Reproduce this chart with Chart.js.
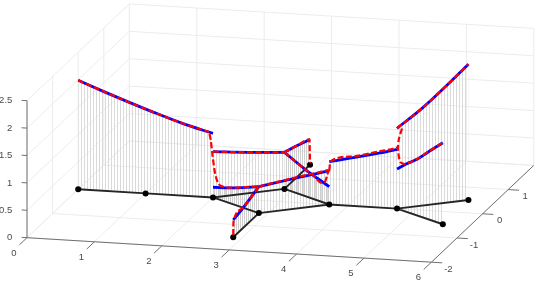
<!DOCTYPE html>
<html>
<head>
<meta charset="utf-8">
<style>
  html, body { margin: 0; padding: 0; background: #fff; }
  canvas { display: block; }
</style>
<script src="https://cdn.jsdelivr.net/npm/chart.js@4/dist/chart.umd.js"></script>
</head>
<body>
<canvas id="chart" width="537" height="285"></canvas>
<script>
// tick labels
const xTicks = [0, 1, 2, 3, 4, 5, 6];
const yTicks = [-2, -1, 0, 1];
const zTicks = [0, 0.5, 1, 1.5, 2, 2.5];
const yGrid = [-2, -1, 0, 1, 2];

// network nodes A..K (on the floor)
const nodeX = [0, 1, 2, 2.87, 2.87, 2.87, 2.87, 3.725, 4.73, 5.6, 5.6];
const nodeY = [0, 0, 0, -0.5, -1.5, 0.5, 1.5, 0, 0, 0.5, -0.5];
const A = 0, B = 1, C = 2, D = 3, E = 4, F = 5, G = 6, H = 7, I = 8, J = 9, K = 10;
const links = [[A, B], [B, C], [C, D], [D, E], [C, F], [F, G], [F, H], [D, H], [H, I], [I, J], [I, K]];

// values along each edge: s is the position on the edge (0..1), z the height
const sAC = [0, 0.186, 0.37, 0.556, 0.778, 1];
const blueAC = [1.989, 1.815, 1.65, 1.492, 1.315, 1.168];
const sRedAC = [0, 0.186, 0.37, 0.556, 0.778, 0.97];
const redAC = [1.989, 1.815, 1.65, 1.492, 1.315, 1.19];

const sCF = [0, 0.5, 1];
const blueCF = [0.836, 0.746, 0.668];

const sCD = [0, 0.5, 1];
const blueCD = [0.186, 0.316, 0.482];
const sRedCD = [-0.076, -0.05, -0.007, 0.044, 0.116, 0.225, 0.437, 0.742, 1];
const redCD = [1.135, 1.035, 0.743, 0.46, 0.292, 0.261, 0.303, 0.403, 0.485];

const sED = [0, 0.4, 1];
const blueED = [0.316, 0.37, 0.482];
const sRedED = [0, 0.002, 0.02, 0.4, 1];
const redED = [0.04, 0.18, 0.3, 0.37, 0.485];

const sDH = [0, 0.5, 1];
const blueDH = [0.482, 0.553, 0.617];
const sRedDH = [0, 0.5, 0.99];
const redDH = [0.485, 0.565, 0.63];

const sFH = [0, 0.46, 1];
const blueFH = [0.668, 0.489, 0.325];
const sRedFH = [0, 0.46, 0.637, 0.83, 0.904, 0.978, 1];
const redFH = [0.668, 0.489, 0.434, 0.349, 0.389, 0.593, 0.62];

const sFG = [0, 0.5, 1];
const blueFG = [0.668, 0.57, 0.46];
const sRedFG = [0, 0.5, 0.98, 0.99, 1];
const redFG = [0.668, 0.57, 0.47, 0.25, 0.03];

const sHI = [0, 0.305, 0.75, 1];
const blueHI = [0.781, 0.867, 0.996, 1.08];
const sRedHI = [0, 0.015, 0.305, 0.75, 0.97, 1];
const redHI = [0.62, 0.78, 0.896, 1.03, 1.1, 1.12];

const sIJ = [0, 0.35, 0.654, 1];
const blueIJ = [1.465, 1.775, 2.093, 2.48];

const sIK = [0, 0.18, 0.437, 0.69, 1];
const blueIK = [0.723, 0.858, 1.024, 1.235, 1.487];
const sRedIK = [0.109, 0.037, 0.022, 0.072, 0.181, 0.437, 0.69, 1];
const redIK = [1.494, 1.262, 1.077, 0.87, 0.865, 1.03, 1.24, 1.49];

// fixed view of the 3D box, same for all data
function project(x, y, z) {
  return {
    x: 27 + 67.4 * x + 25.6 * (y + 2),
    y: 237.7 + 4.08 * x - 24.2 * (y + 2) - 54.8 * z
  };
}

function onEdge(from, to, s, z) {
  return s.map((v, i) => project(
    nodeX[from] + (nodeX[to] - nodeX[from]) * v,
    nodeY[from] + (nodeY[to] - nodeY[from]) * v,
    z[i]
  ));
}

// segments joined into one path, NaN breaks the line
function segments(list) {
  const out = [];
  list.forEach(seg => {
    out.push(project(...seg[0]), project(...seg[1]), { x: NaN, y: NaN });
  });
  return out;
}

// thin vertical stems, drawn as a repeating pattern
function hatch(period, color) {
  const c = document.createElement("canvas");
  c.width = period;
  c.height = 1;
  const g = c.getContext("2d");
  g.fillStyle = color;
  g.fillRect(0, 0, 1, 1);
  return g.createPattern(c, "repeat");
}

const gridLines = [];
xTicks.forEach(x => {
  gridLines.push([[x, 2, 0], [x, 2, 2.5]], [[x, -2, 0], [x, 2, 0]]);
});
yGrid.forEach(y => {
  gridLines.push([[0, y, 0], [0, y, 2.5]], [[0, y, 0], [6, y, 0]]);
});
zTicks.forEach(z => {
  gridLines.push([[0, 2, z], [6, 2, z]], [[0, -2, z], [0, 2, z]]);
});

const axisLines = [
  [[0, -2, 0], [0, -2, 2.5]],
  [[0, -2, 0], [6, -2, 0]],
  [[6, -2, 0], [6, 2, 0]]
];
xTicks.forEach(x => axisLines.push([[x, -2, 0], [x, -2.3, 0]]));
yTicks.forEach(y => axisLines.push([[6, y, 0], [6.16, y, 0]]));
zTicks.forEach(z => axisLines.push([[0, -2, z], [-0.08, -2, z]]));

const networkLines = links.map(l => [[nodeX[l[0]], nodeY[l[0]], 0], [nodeX[l[1]], nodeY[l[1]], 0]]);

const datasets = [];

function line(data, color, width, order, extra) {
  datasets.push(Object.assign({
    data, showLine: true, borderColor: color, borderWidth: width,
    pointRadius: 0, order, fill: false, tension: 0
  }, extra));
}

// one curve: stems (hatched fill down to the floor edge), blue line, red dashed line
function curve(from, to, s, blue, sRed, red, period) {
  const baseIndex = datasets.length;
  const sorted = sRed.every((v, i) => i === 0 || v > sRed[i - 1]);
  line(onEdge(from, to, [0, 1], [0, 0]), "rgba(0,0,0,0)", 0, 5);
  line(onEdge(from, to, s, blue), "rgba(0,0,0,0)", 0, 5, {
    fill: { target: baseIndex },
    backgroundColor: hatch(period, period === 2 ? "#cfcfcf" : "#dadada"),
    cubicInterpolationMode: "monotone"
  });
  line(onEdge(from, to, s, blue), "#0000ff", 2.8, 2, {
    borderCapStyle: "butt",
    cubicInterpolationMode: "monotone"
  });
  line(onEdge(from, to, sRed, red), "#ff0000", 2.2, 1, Object.assign(
    { borderDash: [6, 2.5] },
    sorted ? { cubicInterpolationMode: "monotone" } : { tension: 0.25 }
  ));
}

line(segments(gridLines), "#ececec", 1, 7);
line(segments(axisLines), "#707070", 1, 6);

curve(A, C, sAC, blueAC, sRedAC, redAC, 3);
curve(C, F, sCF, blueCF, sCF, blueCF, 3);
curve(C, D, sCD, blueCD, sRedCD, redCD, 2);
curve(E, D, sED, blueED, sRedED, redED, 2);
curve(D, H, sDH, blueDH, sRedDH, redDH, 3);
curve(F, H, sFH, blueFH, sRedFH, redFH, 2);
curve(F, G, sFG, blueFG, sRedFG, redFG, 2);
curve(H, I, sHI, blueHI, sRedHI, redHI, 3);
curve(I, J, sIJ, blueIJ, sIJ, blueIJ, 3);
curve(I, K, sIK, blueIK, sRedIK, redIK, 3);

line(segments(networkLines), "#262626", 1.9, 3);
datasets.push({
  data: nodeX.map((x, i) => project(x, nodeY[i], 0)),
  showLine: false,
  pointRadius: 3,
  pointBackgroundColor: "#000",
  pointBorderWidth: 0,
  order: 2.5
});

// tick labels sit at a fixed offset from their tick, through the chart scales
const tickLabels = {
  id: "tickLabels",
  afterDraw(chart) {
    const { ctx, scales } = chart;
    const put = (text, p, dx, dy, align) => {
      ctx.textAlign = align;
      ctx.fillText(text, scales.x.getPixelForValue(p.x + dx), scales.y.getPixelForValue(p.y + dy));
    };
    ctx.save();
    ctx.font = "9.5px 'Liberation Sans'";
    ctx.fillStyle = "#4a4a4a";
    ctx.textBaseline = "middle";
    xTicks.forEach(x => put(String(x), project(x, -2, 0), -13, 15.5, "center"));
    yTicks.forEach(y => put(String(y), project(6, y, 0), 17, 7, "center"));
    zTicks.forEach(z => put(String(z), project(0, -2, z), -14.7, 0, "right"));
    ctx.restore();
  }
};

new Chart(document.getElementById("chart"), {
  type: "scatter",
  data: { datasets },
  plugins: [tickLabels],
  options: {
    responsive: false,
    animation: false,
    layout: { padding: 0, autoPadding: false },
    plugins: { legend: { display: false }, tooltip: { enabled: false }, title: { display: false } },
    scales: {
      x: { type: "linear", min: 0, max: 537, display: false },
      y: { type: "linear", min: 0, max: 285, reverse: true, display: false }
    }
  }
});
</script>
</body>
</html>
